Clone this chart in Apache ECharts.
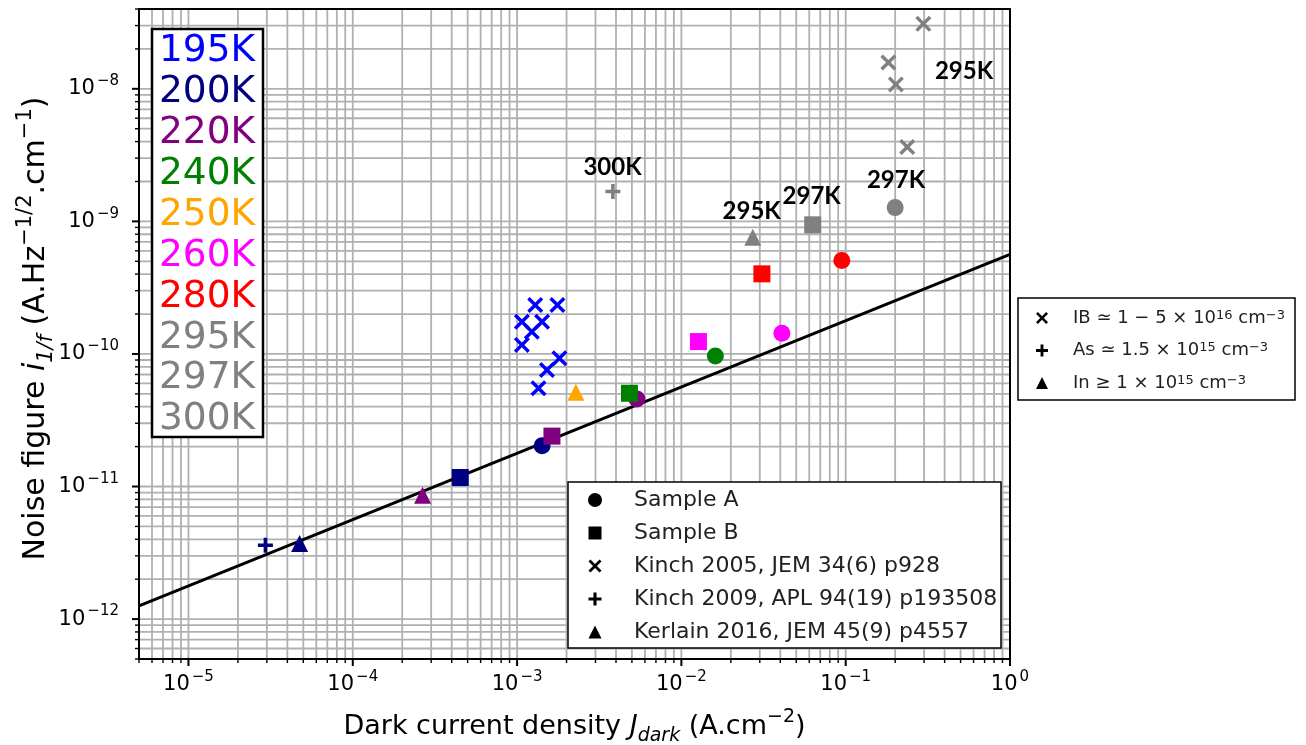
<!DOCTYPE html>
<html><head><meta charset="utf-8">
<script src="https://cdn.jsdelivr.net/npm/echarts@6/dist/echarts.min.js"></script>
<style>html,body{margin:0;padding:0;background:#fff}#c{width:1306px;height:745px}</style>
</head><body><div id="c"></div>
<script>
// ---------- data ----------
const tempLabels = ['195K','200K','220K','240K','250K','260K','280K','295K','297K','300K'];
const tempColors = ['#0000ff','#000080','#800080','#008000','#ffa500','#ff00ff','#ff0000','#808080','#808080','#808080'];

// Sample A (circles)
const sampleA_J = [1.42e-3, 5.36e-3, 1.61e-2, 4.09e-2, 9.47e-2, 0.200];
const sampleA_N = [2.03e-11, 4.57e-11, 9.66e-11, 1.43e-10, 5.07e-10, 1.27e-9];
const sampleA_T = ['200K','220K','240K','260K','280K','297K'];
// Sample B (squares)
const sampleB_J = [4.51e-4, 1.63e-3, 4.83e-3, 1.27e-2, 3.09e-2, 6.30e-2];
const sampleB_N = [1.17e-11, 2.40e-11, 5.05e-11, 1.24e-10, 4.02e-10, 9.42e-10];
const sampleB_T = ['200K','220K','240K','260K','280K','297K'];
// Kinch 2005 (x)
const kinch05_J = [1.29e-3, 1.76e-3, 1.07e-3, 1.42e-3, 1.23e-3, 1.07e-3, 1.81e-3, 1.52e-3, 1.35e-3, 0.297, 0.182, 0.202, 0.237];
const kinch05_N = [2.34e-10, 2.34e-10, 1.75e-10, 1.75e-10, 1.47e-10, 1.17e-10, 9.28e-11, 7.57e-11, 5.51e-11, 3.09e-8, 1.58e-8, 1.08e-8, 3.64e-9];
const kinch05_T = ['195K','195K','195K','195K','195K','195K','195K','195K','195K','295K','295K','295K','295K'];
// Kinch 2009 (+)
const kinch09_J = [2.94e-5, 3.83e-3];
const kinch09_N = [3.61e-12, 1.68e-9];
const kinch09_T = ['200K','300K'];
// Kerlain 2016 (triangles)
const kerlain_J = [4.75e-5, 2.66e-4, 2.28e-3, 2.72e-2];
const kerlain_N = [3.72e-12, 8.61e-12, 5.14e-11, 7.60e-10];
const kerlain_T = ['200K','220K','250K','295K'];
// fitted line  i ~ sqrt(J)
const fit_J = [5e-6, 1];
const fit_N = [1.26e-12, 5.64e-10];

// annotations
const annotTexts = ['300K','295K','297K','297K','295K'];

// axes
const xMin = 5e-6, xMax = 1, yMin = 5e-13, yMax = 4e-8;
const xTickExps = [-5,-4,-3,-2,-1,0];
const yTickExps = [-12,-11,-10,-9,-8];
const minorMult = [2,3,4,5,6,7,8,9];

const seriesLegend = ['Sample A','Sample B','Kinch 2005, JEM 34(6) p928','Kinch 2009, APL 94(19) p193508','Kerlain 2016, JEM 45(9) p4557'];
const dopingLegend = ['IB ≃ 1 − 5 × 10{sup|16} cm{sup|−3}','As ≃ 1.5 × 10{sup|15} cm{sup|−3}','In ≥ 1 × 10{sup|15} cm{sup|−3}'];

// ---------- marker shapes (10x10 unit box) ----------
const X_PTS = [[0,1.5],[1.5,0],[5,3.5],[8.5,0],[10,1.5],[6.5,5],[10,8.5],[8.5,10],[5,6.5],[1.5,10],[0,8.5],[3.5,5]];
const PLUS_PTS = [[3.8,0],[6.2,0],[6.2,3.8],[10,3.8],[10,6.2],[6.2,6.2],[6.2,10],[3.8,10],[3.8,6.2],[0,6.2],[0,3.8],[3.8,3.8]];
const toPath = P => 'path://M' + P.map(p => p[0] + ',' + p[1]).join('L') + 'Z';
const X_PATH = toPath(X_PTS);
const PLUS_PATH = toPath(PLUS_PTS);
const colorOf = t => tempColors[tempLabels.indexOf(t)];
const pts = (J, N, T) => J.map((j, i) => ({value: [j, N[i]], itemStyle: {color: colorOf(T[i]), opacity: 1}}));

function inRange(v, a, b){ return v >= a*(1-1e-9) && v <= b*(1+1e-9); }
function minorVals(lo, hi){
  const out = [];
  const e0 = Math.floor(Math.log10(lo)), e1 = Math.ceil(Math.log10(hi));
  for (let e = e0; e <= e1; e++) minorMult.forEach(m => { const v = m*Math.pow(10,e); if (inRange(v, lo, hi)) out.push(v); });
  return out;
}
const xMajorVals = xTickExps.map(e => Math.pow(10, e));
const yMajorVals = yTickExps.map(e => Math.pow(10, e));
const xMinorVals = minorVals(xMin, xMax);
const yMinorVals = minorVals(yMin, yMax);

const FONT = 'DejaVu Sans';
const fnt = s => s + 'px "DejaVu Sans", sans-serif';
const powText = e => '{b|10}{s|' + (e < 0 ? '−' : '') + Math.abs(e) + '}';
const tickRich = {
  b: {font: fnt(21), fontSize: 21, fontFamily: FONT, fill: '#000', lineHeight: 30},
  s: {font: fnt(15), fontSize: 15, fontFamily: FONT, fill: '#000', verticalAlign: 'top', lineHeight: 17, padding: [0, 0, 0, 2]}
};

function renderGrid(params, api){
  const ch = [];
  const st = {stroke: '#b0b0b0', lineWidth: 1.8};
  xMajorVals.concat(xMinorVals).forEach(v => {
    const a = api.coord([v, yMin]), b = api.coord([v, yMax]);
    ch.push({type: 'line', shape: {x1: a[0], y1: a[1], x2: b[0], y2: b[1]}, style: st});
  });
  yMajorVals.concat(yMinorVals).forEach(v => {
    const a = api.coord([xMin, v]), b = api.coord([xMax, v]);
    ch.push({type: 'line', shape: {x1: a[0], y1: a[1], x2: b[0], y2: b[1]}, style: st});
  });
  return {type: 'group', children: ch};
}
function renderFrame(params, api){
  const ch = [];
  const bl = api.coord([xMin, yMin]), tr = api.coord([xMax, yMax]);
  const maj = {stroke: '#000', lineWidth: 2}, mnr = {stroke: '#000', lineWidth: 1.4};
  xMajorVals.forEach((v, i) => {
    const p = api.coord([v, yMin]);
    ch.push({type:'line', shape:{x1:p[0], y1:bl[1], x2:p[0], y2:bl[1]+7}, style: maj});
    ch.push({type:'text', x: p[0], y: bl[1] + 11, style: {text: powText(xTickExps[i]), rich: tickRich, font: fnt(21), align: 'center', verticalAlign: 'top'}});
  });
  xMinorVals.forEach(v => { const p = api.coord([v, yMin]); ch.push({type:'line', shape:{x1:p[0], y1:bl[1], x2:p[0], y2:bl[1]+4}, style: mnr}); });
  yMajorVals.forEach((v, i) => {
    const p = api.coord([xMin, v]);
    ch.push({type:'line', shape:{x1:bl[0], y1:p[1], x2:bl[0]-7, y2:p[1]}, style: maj});
    ch.push({type:'text', x: bl[0] - 20, y: p[1], style: {text: powText(yTickExps[i]), rich: tickRich, font: fnt(21), align: 'right', verticalAlign: 'middle'}});
  });
  yMinorVals.forEach(v => { const p = api.coord([xMin, v]); ch.push({type:'line', shape:{x1:bl[0], y1:p[1], x2:bl[0]-4, y2:p[1]}, style: mnr}); });
  ch.push({type: 'rect', shape: {x: bl[0], y: tr[1], width: tr[0]-bl[0], height: bl[1]-tr[1]}, style: {fill: null, stroke: '#000', lineWidth: 2}});
  return {type: 'group', children: ch};
}

// ---------- graphics (legends, annotations) ----------
const graphics = [];
graphics.push({type: 'rect', z: 100, shape: {x: 152, y: 29, width: 111, height: 408}, style: {fill: '#fff', stroke: '#000', lineWidth: 2.5}});
tempLabels.forEach((t, i) => graphics.push({type: 'text', z: 101, x: 159, y: 51.5 + 40.9*i,
  style: {text: t, fill: tempColors[i], fontSize: 37.5, fontFamily: FONT, verticalAlign: 'middle', align: 'left'}}));

graphics.push({type: 'rect', z: 100, shape: {x: 568, y: 482, width: 433, height: 166}, style: {fill: '#fff', stroke: '#000', lineWidth: 1.5}});
const legSym = ['circle','rect','x','plus','triangle'];
function symGraphic(kind, cx, cy, s){
  if (kind === 'circle') return {type: 'circle', z: 101, shape: {cx: cx, cy: cy, r: s/2}, style: {fill: '#000'}};
  if (kind === 'rect') return {type: 'rect', z: 101, shape: {x: cx - s/2, y: cy - s/2, width: s, height: s}, style: {fill: '#000'}};
  if (kind === 'triangle') return {type: 'polygon', z: 101, shape: {points: [[cx, cy - s/2], [cx + s/2, cy + s/2], [cx - s/2, cy + s/2]]}, style: {fill: '#000'}};
  const P = kind === 'x' ? X_PTS : PLUS_PTS;
  return {type: 'polygon', z: 101, shape: {points: P.map(p => [cx - s/2 + p[0]*s/10, cy - s/2 + p[1]*s/10])}, style: {fill: '#000'}};
}
seriesLegend.forEach((t, i) => {
  const cy = 500 + 33*i;
  graphics.push(symGraphic(legSym[i], 595, cy, legSym[i] === 'circle' ? 14 : 13));
  graphics.push({type: 'text', z: 101, x: 634, y: cy, style: {text: t, fill: '#222', fontSize: 22, fontFamily: FONT, verticalAlign: 'middle', align: 'left'}});
});

graphics.push({type: 'rect', z: 100, shape: {x: 1018, y: 298, width: 277, height: 102}, style: {fill: '#fff', stroke: '#000', lineWidth: 1.5}});
const dopSym = ['x','plus','triangle'];
dopingLegend.forEach((t, i) => {
  const cy = 318 + 32.5*i;
  graphics.push(symGraphic(dopSym[i], 1042, cy, 12));
  graphics.push({type: 'text', z: 101, x: 1073, y: cy, style: {text: t, fill: '#222', fontSize: 18, fontFamily: FONT, verticalAlign: 'middle', align: 'left',
    rich: {sup: {font: fnt(13), fontSize: 13, fontFamily: FONT, fill: '#222', verticalAlign: 'top', lineHeight: 14}}}});
});

const annotPos = [[612.5,167],[751.7,211.7],[811.7,196.7],[896,180],[964,71.7]];
annotTexts.forEach((t, i) => graphics.push({type: 'text', z: 101, x: annotPos[i][0], y: annotPos[i][1],
  style: {text: t, fill: '#000', fontSize: 24, fontWeight: 'bold', fontFamily: 'Lato', verticalAlign: 'middle', align: 'center'}}));

// ---------- chart ----------
const chart = echarts.init(document.getElementById('c'), null, {renderer: 'canvas'});
const nameRichX = {
  n: {fontSize: 27, fontFamily: FONT, color: '#000', lineHeight: 38},
  i: {fontSize: 27, fontFamily: FONT, fontStyle: 'italic', color: '#000', lineHeight: 38},
  sub: {fontSize: 19, fontFamily: FONT, fontStyle: 'italic', color: '#000', verticalAlign: 'bottom', lineHeight: 22},
  sup: {fontSize: 19, fontFamily: FONT, color: '#000', verticalAlign: 'top', lineHeight: 22}
};
const nameRichY = {
  n: {fontSize: 30, fontFamily: FONT, color: '#000', lineHeight: 42},
  i: {fontSize: 30, fontFamily: FONT, fontStyle: 'italic', color: '#000', lineHeight: 42},
  sub: {fontSize: 21, fontFamily: FONT, fontStyle: 'italic', color: '#000', verticalAlign: 'bottom', lineHeight: 24},
  sup: {fontSize: 21, fontFamily: FONT, color: '#000', verticalAlign: 'top', lineHeight: 24}
};
chart.setOption({
  animation: false,
  backgroundColor: '#fff',
  grid: {left: 139, top: 9, width: 871, height: 650, outerBoundsMode: 'none', containLabel: false},
  xAxis: {
    type: 'log', logBase: 10, min: xMin, max: xMax,
    axisLine: {show: false}, axisTick: {show: false}, splitLine: {show: false}, minorTick: {show: false},
    axisLabel: {show: false},
    name: '{n|Dark current density }{i|J}{sub|dark}{n| (A.cm}{sup|−2}{n|)}',
    nameLocation: 'middle', nameGap: 49, nameTextStyle: {rich: nameRichX, fontSize: 27, fontFamily: FONT, color: '#000'}
  },
  yAxis: {
    type: 'log', logBase: 10, min: yMin, max: yMax,
    axisLine: {show: false}, axisTick: {show: false}, splitLine: {show: false}, minorTick: {show: false},
    axisLabel: {show: false},
    name: '{n|Noise figure }{i|i}{sub|1/f}{n| (A.Hz}{sup|−1/2}{n|.cm}{sup|−1}{n|)}',
    nameLocation: 'middle', nameGap: 82, nameRotate: 90,
    nameTextStyle: {rich: nameRichY, fontSize: 30, fontFamily: FONT, color: '#000', padding: [0, 0, 0, 11]}
  },
  graphic: graphics,
  series: [
    {type: 'custom', name: 'grid', z: 1, silent: true, clip: false, renderItem: renderGrid, data: [[xMin, yMin]]},
    {type: 'line', name: 'fit', z: 3, data: fit_J.map((j, i) => [j, fit_N[i]]), showSymbol: false, symbol: 'none',
      lineStyle: {color: '#000', width: 3}, silent: true},
    {type: 'scatter', name: seriesLegend[0], z: 4, symbol: 'circle', symbolSize: 17, itemStyle: {opacity: 1}, data: pts(sampleA_J, sampleA_N, sampleA_T)},
    {type: 'scatter', name: seriesLegend[1], z: 4, symbol: 'rect', symbolSize: 17, itemStyle: {opacity: 1}, data: pts(sampleB_J, sampleB_N, sampleB_T)},
    {type: 'scatter', name: seriesLegend[2], z: 4, symbol: X_PATH, symbolSize: 16, itemStyle: {opacity: 1}, data: pts(kinch05_J, kinch05_N, kinch05_T)},
    {type: 'scatter', name: seriesLegend[3], z: 4, symbol: PLUS_PATH, symbolSize: 15, itemStyle: {opacity: 1}, data: pts(kinch09_J, kinch09_N, kinch09_T)},
    {type: 'scatter', name: seriesLegend[4], z: 4, symbol: 'triangle', symbolSize: 17, itemStyle: {opacity: 1}, data: pts(kerlain_J, kerlain_N, kerlain_T)},
    {type: 'custom', name: 'frame', z: 6, silent: true, clip: false, renderItem: renderFrame, data: [[xMin, yMin]]}
  ]
});
</script>
</body></html>
